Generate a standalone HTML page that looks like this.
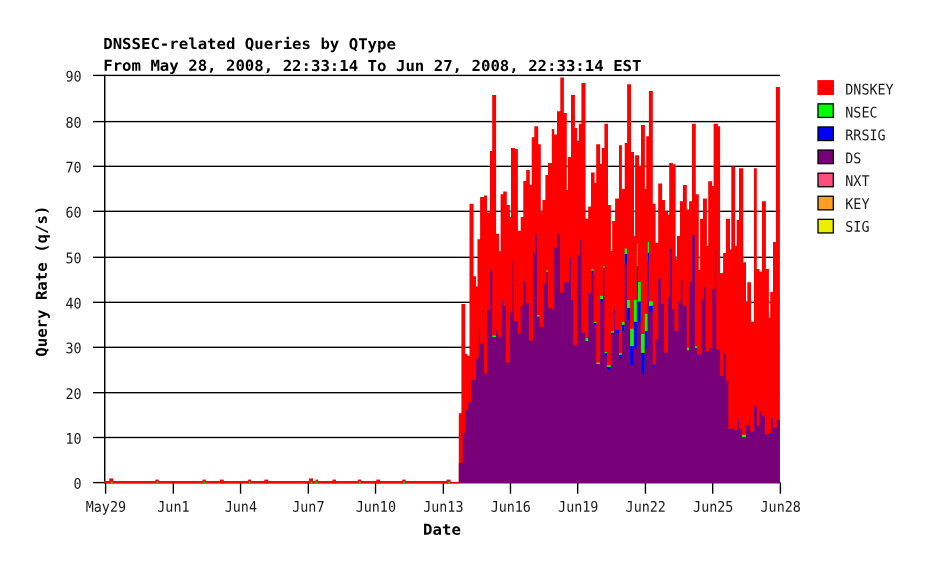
<!DOCTYPE html>
<html lang="en"><head><meta charset="utf-8"><title>DNSSEC-related Queries by QType</title>
<style>
html,body{margin:0;padding:0;background:#fff;}
body{width:925px;height:566px;overflow:hidden;}
svg{display:block;}
.t{font-family:"DejaVu Sans Mono","Liberation Mono",monospace;font-size:13.4px;fill:#000;fill-opacity:0.9;}
.b{font-family:"DejaVu Sans Mono","Liberation Mono",monospace;font-weight:bold;font-size:15.7px;fill:#000;}
</style></head><body>
<svg width="925" height="566" viewBox="0 0 925 566">
<rect x="0" y="0" width="925" height="566" fill="#fff"/>
<g fill="#000">
<rect x="93" y="481.92" width="686.9" height="1.36"/>
<rect x="93" y="436.82" width="686.9" height="1.36"/>
<rect x="93" y="392" width="686.9" height="1.36"/>
<rect x="93" y="346.64" width="686.9" height="1.36"/>
<rect x="93" y="301.64" width="686.9" height="1.36"/>
<rect x="93" y="256.64" width="686.9" height="1.36"/>
<rect x="93" y="210.64" width="686.9" height="1.36"/>
<rect x="93" y="165.64" width="686.9" height="1.36"/>
<rect x="93" y="120.92" width="686.9" height="1.36"/>
<rect x="93" y="74.72" width="686.9" height="1.36"/>
<rect x="104" y="74.8" width="1.45" height="408.4"/>
<rect x="104.92" y="482.4" width="1.36" height="11.3"/>
<rect x="172.64" y="482.4" width="1.36" height="11.3"/>
<rect x="239.88" y="482.4" width="1.36" height="11.3"/>
<rect x="307.64" y="482.4" width="1.36" height="11.3"/>
<rect x="374.84" y="482.4" width="1.36" height="11.3"/>
<rect x="442.64" y="482.4" width="1.36" height="11.3"/>
<rect x="509.8" y="482.4" width="1.36" height="11.3"/>
<rect x="577" y="482.4" width="1.36" height="11.3"/>
<rect x="644.76" y="482.4" width="1.36" height="11.3"/>
<rect x="712" y="482.4" width="1.36" height="11.3"/>
<rect x="779.72" y="482.4" width="1.36" height="11.3"/>
</g>
<path fill="#ff0000" d="M458.8 482.95L458.8 413.2L461.4 413.2L461.4 304L465.2 304L465.2 353.9L467.5 353.9L467.5 355.8L469.5 355.8L469.5 203.8L473.6 203.8L473.6 276.2L476 276.2L476 286.5L477.5 286.5L477.5 239.2L480.1 239.2L480.1 197.1L484 197.1L484 195.5L487 195.5L487 212.6L490 212.6L490 151L492.2 151L492.2 95L496.1 95L496.1 233.7L499 233.7L499 251.3L500.6 251.3L500.6 194.2L503.2 194.2L503.2 191.6L506.8 191.6L506.8 205.1L509.9 205.1L509.9 217.1L511 217.1L511 148L514.9 148L514.9 149.1L517.9 149.1L517.9 230.8L520.7 230.8L520.7 217.1L523.3 217.1L523.3 181L526.2 181L526.2 170.1L529.8 170.1L529.8 184.8L531.7 184.8L531.7 137.2L534.3 137.2L534.3 126.2L538.2 126.2L538.2 144.2L540.8 144.2L540.8 212.6L542.4 212.6L542.4 200L545.4 200L545.4 175L548 175L548 163.1L551.8 163.1L551.8 129L554.2 129L554.2 134.5L557 134.5L557 111.3L560.3 111.3L560.3 77.5L563.9 77.5L563.9 113.1L566.8 113.1L566.8 190L568 190L568 157.1L571 157.1L571 95L574.9 95L574.9 128L577.1 128L577.1 141.1L578.8 141.1L578.8 123.8L581.4 123.8L581.4 83L585.6 83L585.6 218.8L588.2 218.8L588.2 206.4L591 206.4L591 172.4L594.6 172.4L594.6 182.8L596.2 182.8L596.2 144.2L600.1 144.2L600.1 164L601.8 164L601.8 148L604.4 148L604.4 123.8L608 123.8L608 205.1L610.9 205.1L610.9 250.9L612.2 250.9L612.2 221L615.1 221L615.1 198.4L619 198.4L619 145.2L621.9 145.2L621.9 189L624.7 189L624.7 142.9L627.1 142.9L627.1 84.3L631 84.3L631 152.1L634 152.1L634 235.9L635.1 235.9L635.1 155.2L639 155.2L639 166L641 166L641 125.1L644.9 125.1L644.9 189L646.2 189L646.2 136.2L648.9 136.2L648.9 91L652.8 91L652.8 203.8L655.6 203.8L655.6 242.7L658.2 242.7L658.2 183.5L662.1 183.5L662.1 200L665 200L665 211.3L668 211.3L668 214.5L669.2 214.5L669.2 163.1L672.9 163.1L672.9 164.3L675.7 164.3L675.7 258.5L677 258.5L677 235.9L680 235.9L680 201.2L682.9 201.2L682.9 185L686.8 185L686.8 209.4L689.1 209.4L689.1 201.2L692 201.2L692 123.8L695.8 123.8L695.8 194.2L698.8 194.2L698.8 269.9L700.1 269.9L700.1 218.8L703 218.8L703 198.4L706.9 198.4L706.9 245.7L708.2 245.7L708.2 181.3L712.1 181.3L712.1 186.1L713.6 186.1L713.6 123.8L717.9 123.8L717.9 126.2L720.1 126.2L720.1 272.9L723.1 272.9L723.1 253.1L725.9 253.1L725.9 218.8L730 218.8L730 249.6L731.3 249.6L731.3 166.6L735.1 166.6L735.1 245.7L736.7 245.7L736.7 220.1L739 220.1L739 168.3L743.2 168.3L743.2 262.2L746 262.2L746 301.4L747.3 301.4L747.3 282.3L751 282.3L751 321.8L754 321.8L754 168.3L756.8 168.3L756.8 269L759.4 269L759.4 271.6L762 271.6L762 201.2L765.9 201.2L765.9 269L768.9 269L768.9 317.6L770.2 317.6L770.2 291.9L773 291.9L773 242L775.9 242L775.9 86.9L779.9 86.9L779.9 482.95Z"/>
<g fill="#00ff00">
<rect x="492.2" y="335.5" width="3.9" height="2.6"/>
<rect x="536.9" y="315" width="2.6" height="2.6"/>
<rect x="546.3" y="270.3" width="1.7" height="2.7"/>
<rect x="585.3" y="338.1" width="2.9" height="3.9"/>
<rect x="591" y="269" width="2.6" height="5.2"/>
<rect x="593.6" y="321.8" width="2.6" height="4"/>
<rect x="596.2" y="362.6" width="3.9" height="2.4"/>
<rect x="600.1" y="295.8" width="3" height="6.6"/>
<rect x="603.1" y="266" width="1.3" height="2.7"/>
<rect x="604.4" y="352" width="2.6" height="4.8"/>
<rect x="607" y="365.2" width="3.9" height="5.5"/>
<rect x="610.9" y="331" width="3.2" height="3.8"/>
<rect x="619" y="353.1" width="2.9" height="6.3"/>
<rect x="621.9" y="321.8" width="2.8" height="10.2"/>
<rect x="624.7" y="248.5" width="2.3" height="16"/>
<rect x="627" y="300" width="3.1" height="21.3"/>
<rect x="630.1" y="328.8" width="3.8" height="37.2"/>
<rect x="633.9" y="300" width="3" height="48.4"/>
<rect x="636.9" y="243.1" width="1" height="49.8"/>
<rect x="637.9" y="282" width="2.9" height="40.6"/>
<rect x="640.8" y="334" width="4" height="40.5"/>
<rect x="644.8" y="313.8" width="2.9" height="35.1"/>
<rect x="647.7" y="242" width="1.3" height="20.9"/>
<rect x="649" y="301.3" width="3.8" height="10.8"/>
<rect x="686.8" y="347.7" width="2.3" height="3.6"/>
<rect x="694.9" y="346.2" width="2.2" height="2.9"/>
<rect x="741.9" y="434.9" width="4.1" height="3.2"/>
</g>
<g fill="#0000ff">
<rect x="591" y="270.6" width="2.6" height="3.6"/>
<rect x="593.6" y="323.1" width="2.6" height="2.7"/>
<rect x="600.1" y="299.1" width="3" height="3.3"/>
<rect x="604.4" y="353.2" width="2.6" height="3.6"/>
<rect x="607" y="366.9" width="3.9" height="3.8"/>
<rect x="610.9" y="332.8" width="3.2" height="2"/>
<rect x="614.1" y="310.9" width="1" height="2.3"/>
<rect x="615.1" y="330" width="3.9" height="4"/>
<rect x="619" y="354.9" width="2.9" height="4.5"/>
<rect x="621.9" y="324.8" width="2.8" height="7.2"/>
<rect x="624.7" y="254.1" width="2.3" height="10.4"/>
<rect x="627" y="308.1" width="3.1" height="13.2"/>
<rect x="630.1" y="346.1" width="3.8" height="19.9"/>
<rect x="633.9" y="321.9" width="3" height="26.5"/>
<rect x="636.9" y="266" width="1" height="26.9"/>
<rect x="637.9" y="301.5" width="2.9" height="21.1"/>
<rect x="640.8" y="352.9" width="4" height="21.6"/>
<rect x="644.8" y="331.2" width="2.9" height="17.7"/>
<rect x="647.7" y="252.8" width="1.3" height="10.1"/>
<rect x="649" y="305.9" width="3.8" height="6.2"/>
<rect x="652.8" y="364.8" width="2.9" height="3.1"/>
<rect x="768.9" y="433" width="2.6" height="2.9"/>
</g>
<path fill="#780078" d="M458.8 483.2L458.8 463.1L462.7 463.1L462.7 433L465.2 433L465.2 409.9L468.2 409.9L468.2 402.2L471 402.2L471 380L476 380L476 358.4L478.8 358.4L478.8 327.4L480.1 327.4L480.1 343.8L484 343.8L484 373.4L487 373.4L487 310.1L490 310.1L490 270.3L492.2 270.3L492.2 337.1L496.1 337.1L496.1 330.3L498 330.3L498 336.8L501.9 336.8L501.9 300.1L503.2 300.1L503.2 305.9L505.8 305.9L505.8 362.7L509.9 362.7L509.9 312.4L512.5 312.4L512.5 261L513.8 261L513.8 320.9L517.9 320.9L517.9 333.8L520.7 333.8L520.7 305.9L523.3 305.9L523.3 281.2L525.9 281.2L525.9 303.1L528.9 303.1L528.9 340.7L533 340.7L533 253.1L535.6 253.1L535.6 233.7L536.9 233.7L536.9 316.6L539.5 316.6L539.5 327L543.8 327L543.8 283.9L546.3 283.9L546.3 272L548 272L548 307.9L551.8 307.9L551.8 309.6L554.2 309.6L554.2 247.4L557 247.4L557 233.7L560 233.7L560 292.7L563.9 292.7L563.9 282.3L569 282.3L569 258L571 258L571 300.1L573.2 300.1L573.2 344.9L577.1 344.9L577.1 255.1L580.1 255.1L580.1 240.1L581.4 240.1L581.4 332.8L585.3 332.8L585.3 341L588.2 341L588.2 293L591 293L591 273.2L593.6 273.2L593.6 324.8L596.2 324.8L596.2 364L600.1 364L600.1 301.4L603.1 301.4L603.1 267.7L604.4 267.7L604.4 355.8L607 355.8L607 369.7L610.9 369.7L610.9 333.8L614.1 333.8L614.1 312.2L615.1 312.2L615.1 333L619 333L619 358.4L621.9 358.4L621.9 331L624.7 331L624.7 263.5L627 263.5L627 320.3L630.1 320.3L630.1 365L633.9 365L633.9 347.4L636.9 347.4L636.9 291.9L637.9 291.9L637.9 321.6L640.8 321.6L640.8 373.5L644.8 373.5L644.8 347.9L647.7 347.9L647.7 261.9L649 261.9L649 311.1L652.8 311.1L652.8 366.9L655.7 366.9L655.7 339.5L658.2 339.5L658.2 278.5L660.9 278.5L660.9 304L663.9 304L663.9 352.8L668 352.8L668 297.5L669.9 297.5L669.9 248.5L671.8 248.5L671.8 309.6L674.4 309.6L674.4 331L678.3 331L678.3 301.4L680.9 301.4L680.9 280L682.6 280L682.6 305.6L686.8 305.6L686.8 350.3L689.1 350.3L689.1 282.3L692 282.3L692 235.3L694.9 235.3L694.9 348.1L697.1 348.1L697.1 354.2L701.7 354.2L701.7 299.2L704 299.2L704 287.1L705.6 287.1L705.6 351.5L709.5 351.5L709.5 348.1L712.3 348.1L712.3 289.1L714.9 289.1L714.9 248.5L716.2 248.5L716.2 349.4L720.1 349.4L720.1 375.9L723.1 375.9L723.1 353.2L725.9 353.2L725.9 380.5L728.3 380.5L728.3 428.8L732.8 428.8L732.8 425.2L734.1 425.2L734.1 430.1L738 430.1L738 418.1L739 418.1L739 428.8L741.9 428.8L741.9 437.1L746 437.1L746 425.2L749 425.2L749 418.1L749.9 418.1L749.9 431.7L754 431.7L754 406.2L756.8 406.2L756.8 425.8L759.4 425.8L759.4 411.6L762 411.6L762 416.2L764.9 416.2L764.9 434.5L768.9 434.5L768.9 434.9L771.5 434.9L771.5 418.1L773 418.1L773 427.5L776.9 427.5L776.9 420.1L779.9 420.1L779.9 483.2Z"/>
<g fill="#ff0000">
<rect x="104.2" y="481" width="346.5" height="2.5"/>
<rect x="450.5" y="482.2" width="8.5" height="1.3"/>
<rect x="109.3" y="478.4" width="3.9" height="5"/>
<rect x="155.3" y="479.6" width="3.5" height="3.8"/>
<rect x="202.4" y="479.6" width="3.5" height="3.8"/>
<rect x="219.9" y="479.6" width="3.9" height="3.8"/>
<rect x="248.1" y="479.6" width="3" height="3.8"/>
<rect x="264.3" y="479.6" width="3.9" height="3.8"/>
<rect x="309.1" y="478.4" width="3.9" height="5"/>
<rect x="315.5" y="479.6" width="2.6" height="3.8"/>
<rect x="332.4" y="479.6" width="3.6" height="3.8"/>
<rect x="357.7" y="479.6" width="3.5" height="3.8"/>
<rect x="376.3" y="479.6" width="3.8" height="3.8"/>
<rect x="402.2" y="479.6" width="3.5" height="3.8"/>
<rect x="446.6" y="479.6" width="3.9" height="3.8"/>
</g><g fill="#00ff00">
<rect x="110.8" y="481.8" width="1.8" height="1.5"/>
<rect x="156.4" y="481.8" width="1.8" height="1.5"/>
<rect x="203.5" y="481.8" width="1.8" height="1.5"/>
<rect x="248.7" y="481.8" width="1.8" height="1.5"/>
<rect x="310.6" y="481.8" width="1.8" height="1.5"/>
<rect x="315.7" y="481.8" width="1.8" height="1.5"/>
<rect x="358.8" y="481.8" width="1.8" height="1.5"/>
<rect x="403.3" y="481.8" width="1.8" height="1.5"/>
<rect x="448.1" y="481.8" width="1.8" height="1.5"/>
</g>
<text class="b" transform="translate(103.2,49) rotate(0.03) scale(1,0.96)">DNSSEC-related Queries by QType</text>
<text class="b" transform="translate(103.2,70.8) rotate(0.03) scale(1,0.96)">From May 28, 2008, 22:33:14 To Jun 27, 2008, 22:33:14 EST</text>
<text class="b" transform="translate(442,534.8) rotate(0.03) scale(1,0.96)" text-anchor="middle">Date</text>
<text class="b" transform="translate(46.8,281.2) rotate(-90) rotate(0.03) scale(1,0.96)" text-anchor="middle">Query Rate (q/s)</text>
<text class="t" transform="translate(81.5,488.8) rotate(0.03) scale(1,1.09)" text-anchor="end">0</text>
<text class="t" transform="translate(81.5,443.7) rotate(0.03) scale(1,1.09)" text-anchor="end">10</text>
<text class="t" transform="translate(81.5,399) rotate(0.03) scale(1,1.09)" text-anchor="end">20</text>
<text class="t" transform="translate(81.5,353.3) rotate(0.03) scale(1,1.09)" text-anchor="end">30</text>
<text class="t" transform="translate(81.5,308.5) rotate(0.03) scale(1,1.09)" text-anchor="end">40</text>
<text class="t" transform="translate(81.5,263.3) rotate(0.03) scale(1,1.09)" text-anchor="end">50</text>
<text class="t" transform="translate(81.5,217.4) rotate(0.03) scale(1,1.09)" text-anchor="end">60</text>
<text class="t" transform="translate(81.5,172.5) rotate(0.03) scale(1,1.09)" text-anchor="end">70</text>
<text class="t" transform="translate(81.5,127.8) rotate(0.03) scale(1,1.09)" text-anchor="end">80</text>
<text class="t" transform="translate(81.5,81.6) rotate(0.03) scale(1,1.09)" text-anchor="end">90</text>
<text class="t" transform="translate(105.9,511.85) rotate(0.03) scale(1,1.09)" text-anchor="middle">May29</text>
<text class="t" transform="translate(173.38,511.85) rotate(0.03) scale(1,1.09)" text-anchor="middle">Jun1</text>
<text class="t" transform="translate(240.86,511.85) rotate(0.03) scale(1,1.09)" text-anchor="middle">Jun4</text>
<text class="t" transform="translate(308.34,511.85) rotate(0.03) scale(1,1.09)" text-anchor="middle">Jun7</text>
<text class="t" transform="translate(375.82,511.85) rotate(0.03) scale(1,1.09)" text-anchor="middle">Jun10</text>
<text class="t" transform="translate(443.3,511.85) rotate(0.03) scale(1,1.09)" text-anchor="middle">Jun13</text>
<text class="t" transform="translate(510.78,511.85) rotate(0.03) scale(1,1.09)" text-anchor="middle">Jun16</text>
<text class="t" transform="translate(578.26,511.85) rotate(0.03) scale(1,1.09)" text-anchor="middle">Jun19</text>
<text class="t" transform="translate(645.74,511.85) rotate(0.03) scale(1,1.09)" text-anchor="middle">Jun22</text>
<text class="t" transform="translate(713.22,511.85) rotate(0.03) scale(1,1.09)" text-anchor="middle">Jun25</text>
<text class="t" transform="translate(780.7,511.85) rotate(0.03) scale(1,1.09)" text-anchor="middle">Jun28</text>
<rect x="818" y="80.75" width="15.3" height="13.6" fill="#ff0000" stroke="#ff0000" stroke-width="1.3"/>
<text class="t" transform="translate(845.3,94.6) rotate(0.03) scale(1,1.09)">DNSKEY</text>
<rect x="818" y="103.85" width="15.3" height="13.6" fill="#00ff00" stroke="#000" stroke-width="1.3"/>
<text class="t" transform="translate(845.3,117.47) rotate(0.03) scale(1,1.09)">NSEC</text>
<rect x="818" y="126.95" width="15.3" height="13.6" fill="#0000ff" stroke="#000" stroke-width="1.3"/>
<text class="t" transform="translate(845.3,140.34) rotate(0.03) scale(1,1.09)">RRSIG</text>
<rect x="818" y="150.05" width="15.3" height="13.6" fill="#780078" stroke="#000" stroke-width="1.3"/>
<text class="t" transform="translate(845.3,163.21) rotate(0.03) scale(1,1.09)">DS</text>
<rect x="818" y="173.15" width="15.3" height="13.6" fill="#ff4d80" stroke="#000" stroke-width="1.3"/>
<text class="t" transform="translate(845.3,186.08) rotate(0.03) scale(1,1.09)">NXT</text>
<rect x="818" y="196.25" width="15.3" height="13.6" fill="#ff9e24" stroke="#000" stroke-width="1.3"/>
<text class="t" transform="translate(845.3,208.95) rotate(0.03) scale(1,1.09)">KEY</text>
<rect x="818" y="219.35" width="15.3" height="13.6" fill="#eeee00" stroke="#000" stroke-width="1.3"/>
<text class="t" transform="translate(845.3,231.82) rotate(0.03) scale(1,1.09)">SIG</text>
</svg></body></html>
